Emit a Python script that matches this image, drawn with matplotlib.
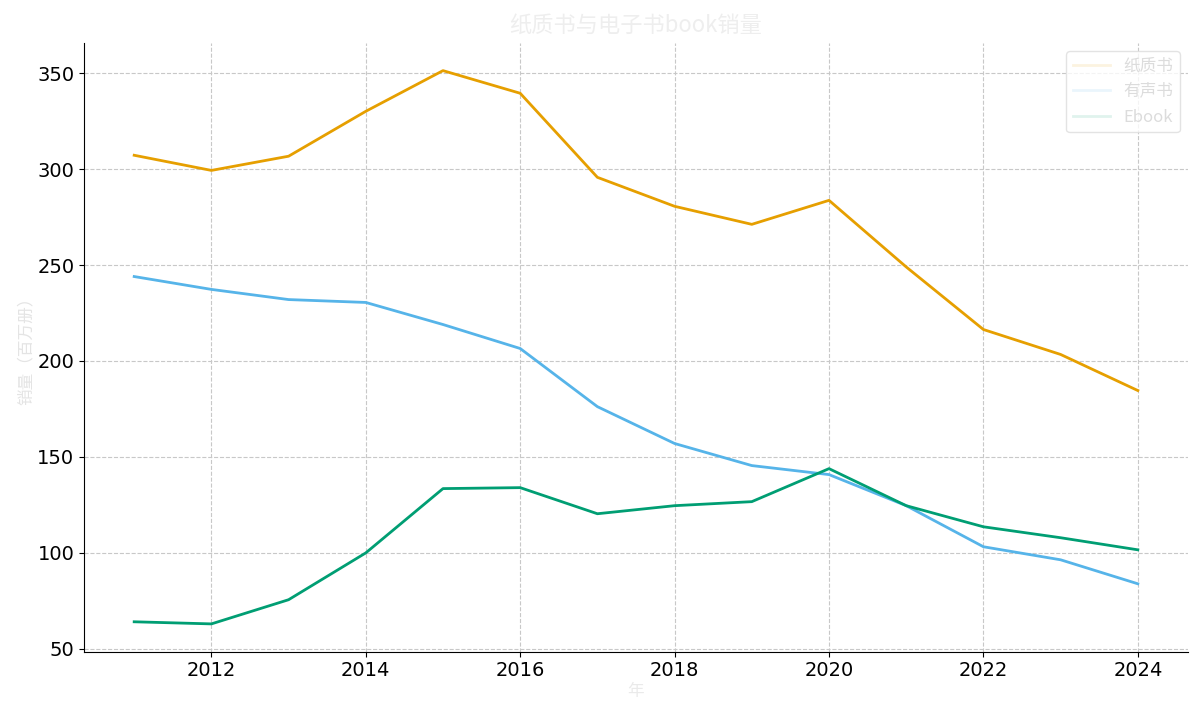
import matplotlib
matplotlib.use("Agg")
import matplotlib.pyplot as plt

plt.rcParams['font.family'] = ['Noto Sans CJK SC', 'DejaVu Sans']

years = [2011, 2012, 2013, 2014, 2015, 2016, 2017, 2018, 2019, 2020, 2021, 2022, 2023, 2024]
series_names = ["纸质书", "有声书", "Ebook"]
print_books = [307.2, 299.3, 306.7, 330.1, 351.3, 339.5, 295.7, 280.6, 271.2, 283.7, 249.0, 216.4, 203.4, 184.6]
audio_books = [244.0, 237.3, 232.0, 230.5, 219.0, 206.5, 176.2, 157.0, 145.5, 140.8, 124.6, 103.2, 96.4, 83.9]
ebooks = [64.1, 63.0, 75.6, 100.0, 133.5, 134.0, 120.4, 124.6, 126.7, 143.9, 124.6, 113.6, 107.9, 101.6]
colors = ["#E69F00", "#56B4E9", "#009E73"]

fig, ax = plt.subplots(figsize=(12, 7.16), dpi=100)
fig.subplots_adjust(left=0.07, right=0.99, top=0.94, bottom=0.09)

for vals, name, c in zip([print_books, audio_books, ebooks], series_names, colors):
    ax.plot(years, vals, color=c, lw=2, label=name)

ax.set_xticks([2012, 2014, 2016, 2018, 2020, 2022, 2024])
ax.set_yticks([50, 100, 150, 200, 250, 300, 350])
ax.tick_params(labelsize=14)
for lab in ax.get_xticklabels() + ax.get_yticklabels():
    lab.set_family('DejaVu Sans')
ax.grid(True, linestyle='--', color='#c8c8c8', linewidth=0.8)
ax.spines['top'].set_visible(False)
ax.spines['right'].set_visible(False)

faint = '#eeeeee'
ax.set_title("纸质书与电子书book销量", fontsize=16, color=faint, y=1.0, pad=8)
ax.set_ylabel("销量（百万册）", fontsize=12, color='#e4e4e4', labelpad=2)
ax.set_xlabel("年", fontsize=12, color='#eaeaea', labelpad=2)
leg = ax.legend(loc='upper right', fontsize=12, frameon=True, fancybox=True,
                bbox_to_anchor=(1.0, 1.0), handlelength=2.2)
leg.get_frame().set_edgecolor('#dddddd')
for t in leg.get_texts():
    t.set_color('#dcdcdc')
for h in leg.get_lines():
    h.set_alpha(0.12)

fig.savefig("out.png", dpi=100)
